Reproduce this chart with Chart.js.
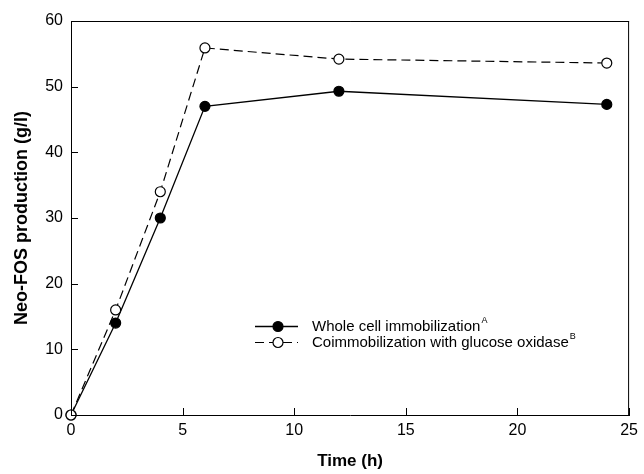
<!DOCTYPE html>
<html>
<head>
<meta charset="utf-8">
<script src="https://cdn.jsdelivr.net/npm/chart.js@4"></script>
<style>
  html,body{margin:0;padding:0;background:#fff;}
  #wrap{width:644px;height:474px;position:relative;}
</style>
</head>
<body>
<div id="wrap"><canvas id="myChart" width="644" height="474"></canvas></div>
<script>
// ─── DATA ───
const times = [0, 2, 4, 6, 12, 24];
const wholeCell = [0, 14, 30, 47, 49.3, 47.3];
const coimmob = [0, 16, 34, 55.9, 54.2, 53.6];
const xTicks = [0, 5, 10, 15, 20, 25];
const yTicks = [0, 10, 20, 30, 40, 50, 60];
const legendLabels = ['Whole cell immobilization', 'Coimmobilization with glucose oxidase'];
const legendSups = ['A', 'B'];

const FONT = '"Liberation Sans", Arial, Helvetica, sans-serif';
const toPts = ys => times.map((t,i)=>({x:t, y:ys[i]}));

// inward ticks + top/right frame
const framePlugin = {
  id:'frame',
  afterDraw(chart) {
    const {ctx, chartArea:a, scales:{x,y}} = chart;
    ctx.save();
    ctx.strokeStyle='#000'; ctx.lineWidth=1;
    ctx.beginPath();
    ctx.moveTo(a.left, a.top+0.5); ctx.lineTo(a.right, a.top+0.5);
    ctx.moveTo(a.right-0.5, a.top); ctx.lineTo(a.right-0.5, a.bottom);
    xTicks.forEach(v=>{ const px=Math.round(x.getPixelForValue(v))+0.5; ctx.moveTo(px,a.bottom); ctx.lineTo(px,a.bottom-7); });
    yTicks.forEach(v=>{ const py=Math.round(y.getPixelForValue(v))+0.5; ctx.moveTo(a.left,py); ctx.lineTo(a.left+7,py); });
    ctx.stroke();
    ctx.restore();
  }
};

// legend drawn inside the plot, with superscripts
const legendPlugin = {
  id:'innerLegend',
  afterDraw(chart) {
    const {ctx} = chart;
    const ds = chart.data.datasets;
    const x0 = 255, x1 = 298, mx = 278, tx = 312;
    const rows = [326.5, 342.5];
    ctx.save();
    [1,0].forEach((di,r)=>{
      const d = ds[di], yy = rows[r];
      ctx.strokeStyle='#000'; ctx.lineWidth=d.borderWidth;
      ctx.setLineDash(d.borderDash||[]);
      ctx.beginPath(); ctx.moveTo(x0,yy); ctx.lineTo(x1,yy); ctx.stroke();
      ctx.setLineDash([]);
      ctx.beginPath(); ctx.arc(mx,yy,d.pointRadius,0,Math.PI*2);
      ctx.fillStyle=d.pointBackgroundColor; ctx.fill();
      ctx.lineWidth=d.pointBorderWidth; ctx.stroke();
      ctx.fillStyle='#000'; ctx.textBaseline='middle'; ctx.textAlign='left';
      ctx.font=`15px ${FONT}`;
      ctx.fillText(legendLabels[r], tx, yy);
      const w = ctx.measureText(legendLabels[r]).width;
      ctx.font=`9px ${FONT}`;
      ctx.fillText(legendSups[r], tx+w+1, yy-6);
    });
    ctx.restore();
  }
};

new Chart(document.getElementById('myChart').getContext('2d'), {
  type:'scatter',
  data:{datasets:[
    { label:'open', data:toPts(coimmob), showLine:true, order:0,
      borderColor:'#000', borderWidth:1.2, borderDash:[9,5],
      pointRadius:5, pointHoverRadius:5, pointBackgroundColor:'#fff', pointBorderColor:'#000', pointBorderWidth:1.2,
      clip:false },
    { label:'filled', data:toPts(wholeCell), showLine:true, order:1,
      borderColor:'#000', borderWidth:1.3,
      pointRadius:5, pointHoverRadius:5, pointBackgroundColor:'#000', pointBorderColor:'#000', pointBorderWidth:1.2,
      clip:false }
  ]},
  options:{
    responsive:false, animation:false,
    layout:{padding:{top:21, right:9, left:0, bottom:0}},
    plugins:{legend:{display:false}, tooltip:{enabled:false}},
    scales:{
      x:{ type:'linear', min:0, max:25,
        afterFit:s=>{ s.height=59; },
        afterBuildTicks:s=>{ s.ticks = xTicks.map(v=>({value:v})); },
        ticks:{color:'#000', font:{family:FONT, size:16}, padding:6, maxRotation:0},
        grid:{drawOnChartArea:false, drawTicks:false},
        border:{display:true, color:'#000', width:1},
        title:{display:true, text:'Time (h)', color:'#000', font:{family:FONT, size:17, weight:'bold'}, padding:{top:0,bottom:2}}
      },
      y:{ type:'linear', min:0, max:60,
        afterFit:s=>{ s.width=71; },
        afterBuildTicks:s=>{ s.ticks = yTicks.map(v=>({value:v})); },
        ticks:{color:'#000', font:{family:FONT, size:16}, padding:8},
        grid:{drawOnChartArea:false, drawTicks:false},
        border:{display:true, color:'#000', width:1},
        title:{display:true, text:'Neo-FOS production (g/l)', color:'#000', font:{family:FONT, size:18, weight:'bold'}, padding:{top:11,bottom:0}}
      }
    }
  },
  plugins:[framePlugin, legendPlugin]
});
</script>
</body>
</html>
